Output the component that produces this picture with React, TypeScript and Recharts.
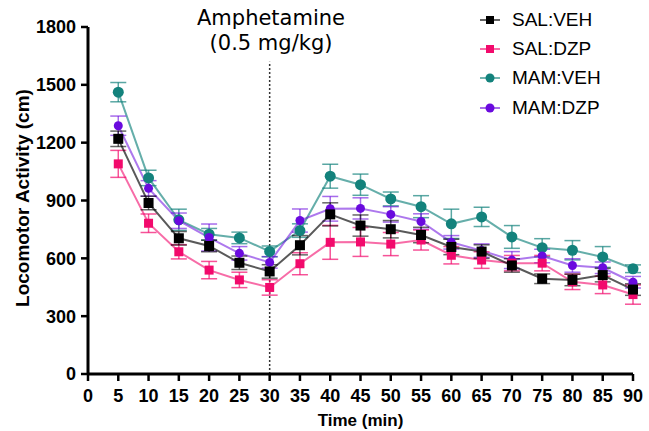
import { LineChart, Line, XAxis, YAxis, ErrorBar, ReferenceLine, Label } from 'recharts';

// time bins (min)
const times = [5, 10, 15, 20, 25, 30, 35, 40, 45, 50, 55, 60, 65, 70, 75, 80, 85, 90];

// means (cm) and SEM
const salVeh = [1220, 887, 704, 664, 577, 532, 668, 828, 770, 751, 721, 659, 635, 563, 494, 488, 513, 438];
const salVehSem = [40, 35, 35, 30, 35, 35, 50, 60, 55, 45, 40, 40, 35, 35, 25, 30, 35, 30];

const salDzp = [1090, 782, 634, 539, 488, 449, 572, 683, 685, 674, 695, 616, 591, 575, 575, 478, 462, 412];
const salDzpSem = [70, 48, 37, 45, 40, 40, 57, 88, 75, 60, 52, 45, 43, 40, 40, 40, 45, 50];

const mamVeh = [1462, 1017, 800, 725, 706, 636, 744, 1026, 982, 908, 868, 779, 815, 711, 655, 642, 607, 546];
const mamVehSem = [50, 40, 55, 30, 30, 28, 35, 62, 55, 36, 57, 76, 50, 59, 47, 50, 54, 20];

const mamDzp = [1288, 963, 795, 708, 626, 579, 796, 857, 859, 828, 791, 683, 640, 591, 612, 563, 551, 476];
const mamDzpSem = [50, 40, 40, 70, 35, 30, 60, 64, 55, 40, 40, 35, 35, 44, 35, 35, 30, 30];

const xTicks = [0, 5, 10, 15, 20, 25, 30, 35, 40, 45, 50, 55, 60, 65, 70, 75, 80, 85, 90];
const yTicks = [0, 300, 600, 900, 1200, 1500, 1800];

const data = times.map((t, i) => ({
  time: t,
  salVeh: salVeh[i], salVehSem: salVehSem[i],
  salDzp: salDzp[i], salDzpSem: salDzpSem[i],
  mamVeh: mamVeh[i], mamVehSem: mamVehSem[i],
  mamDzp: mamDzp[i], mamDzpSem: mamDzpSem[i],
}));

const BLACK = '#000000';
const PINK = '#f20a6c';
const TEAL = '#13827c';
const PURPLE = '#6a0ade';

const legendItems = [
  { name: 'SAL:VEH', color: BLACK, shape: 'square' },
  { name: 'SAL:DZP', color: PINK, shape: 'square' },
  { name: 'MAM:VEH', color: TEAL, shape: 'circle' },
  { name: 'MAM:DZP', color: PURPLE, shape: 'circle' },
];

const sans = '"Liberation Sans", Arial, sans-serif';

const makeDot = (color: string, shape: string, size: number) => (props: any) => {
  const { cx, cy, index } = props;
  if (cx == null || cy == null) return <g key={index} />;
  if (shape === 'square') {
    return <rect key={index} x={cx - size / 2} y={cy - size / 2} width={size} height={size} fill={color} />;
  }
  return <circle key={index} cx={cx} cy={cy} r={size / 2} fill={color} />;
};

const YTitle = () => (
  <text x={22} y={198} transform="rotate(-90 22 198)" textAnchor="middle" dominantBaseline="central"
    fontFamily={sans} fontSize={19} fontWeight="bold" fill="#000">
    Locomotor Activity (cm)
  </text>
);

export default function App() {
  const tickStyle = { fontSize: 18, fontWeight: 'bold', fill: '#000', fontFamily: sans };

  return (
    <div style={{ position: 'absolute', left: 0, top: 0, width: 649, height: 431, background: '#fff' }}>
      <LineChart width={649} height={431} data={data} margin={{ top: 27, right: 16, left: 28, bottom: 2 }}>
        <XAxis type="number" dataKey="time" domain={[0, 90]} ticks={xTicks} interval={0}
          axisLine={{ stroke: '#000', strokeWidth: 3 }} tickLine={{ stroke: '#000', strokeWidth: 2.5 }}
          tickSize={7} tickMargin={8} height={55} tick={tickStyle}>
          <Label value="Time (min)" position="insideBottom" offset={3}
            style={{ fontFamily: sans, fontSize: 17, fontWeight: 'bold', fill: '#000' }} />
        </XAxis>
        <YAxis type="number" domain={[0, 1800]} ticks={yTicks} interval={0} width={60}
          axisLine={{ stroke: '#000', strokeWidth: 3 }} tickLine={{ stroke: '#000', strokeWidth: 2.5 }}
          tickSize={7} tickMargin={5} tick={tickStyle}>
          <Label content={<YTitle />} />
        </YAxis>

        {/* amphetamine injection */}
        <ReferenceLine segment={[{ x: 30, y: 0 }, { x: 30, y: 1620 }]} stroke="#333" strokeWidth={1.5} strokeDasharray="2 2" />

        <Line dataKey="mamVeh" stroke={TEAL} strokeOpacity={0.65} strokeWidth={2} isAnimationActive={false}
          dot={makeDot(TEAL, 'circle', 11)} activeDot={false}>
          <ErrorBar dataKey="mamVehSem" direction="y" width={8} stroke={TEAL} strokeOpacity={0.7} strokeWidth={1.5} />
        </Line>
        <Line dataKey="mamDzp" stroke={PURPLE} strokeOpacity={0.55} strokeWidth={2} isAnimationActive={false}
          dot={makeDot(PURPLE, 'circle', 9)} activeDot={false}>
          <ErrorBar dataKey="mamDzpSem" direction="y" width={8} stroke={PURPLE} strokeOpacity={0.6} strokeWidth={1.5} />
        </Line>
        <Line dataKey="salDzp" stroke={PINK} strokeOpacity={0.6} strokeWidth={2} isAnimationActive={false}
          dot={makeDot(PINK, 'square', 9)} activeDot={false}>
          <ErrorBar dataKey="salDzpSem" direction="y" width={8} stroke={PINK} strokeOpacity={0.7} strokeWidth={1.5} />
        </Line>
        <Line dataKey="salVeh" stroke={BLACK} strokeOpacity={0.65} strokeWidth={2} isAnimationActive={false}
          dot={makeDot(BLACK, 'square', 10)} activeDot={false}>
          <ErrorBar dataKey="salVehSem" direction="y" width={8} stroke={BLACK} strokeOpacity={0.6} strokeWidth={1.5} />
        </Line>
      </LineChart>

      {/* annotation above the dotted line */}
      <div style={{
        position: 'absolute', left: 171, top: 6, width: 200, textAlign: 'center',
        fontFamily: '"DejaVu Sans", sans-serif', fontSize: 21, lineHeight: '25px', color: '#000',
      }}>
        Amphetamine<br />(0.5 mg/kg)
      </div>

      {/* legend */}
      <div style={{ position: 'absolute', left: 478, top: 5, fontFamily: sans, fontSize: 19, color: '#000' }}>
        {legendItems.map((it) => (
          <div key={it.name} style={{ display: 'flex', alignItems: 'center', height: 29.3 }}>
            <svg width={24} height={14} style={{ display: 'block' }}>
              <line x1={2} y1={7} x2={22} y2={7} stroke={it.color} strokeOpacity={0.6} strokeWidth={2} />
              {it.shape === 'square'
                ? <rect x={12 - 4} y={3} width={8} height={8} fill={it.color} />
                : <circle cx={12} cy={7} r={4.5} fill={it.color} />}
            </svg>
            <span style={{ marginLeft: 10 }}>{it.name}</span>
          </div>
        ))}
      </div>
    </div>
  );
}
